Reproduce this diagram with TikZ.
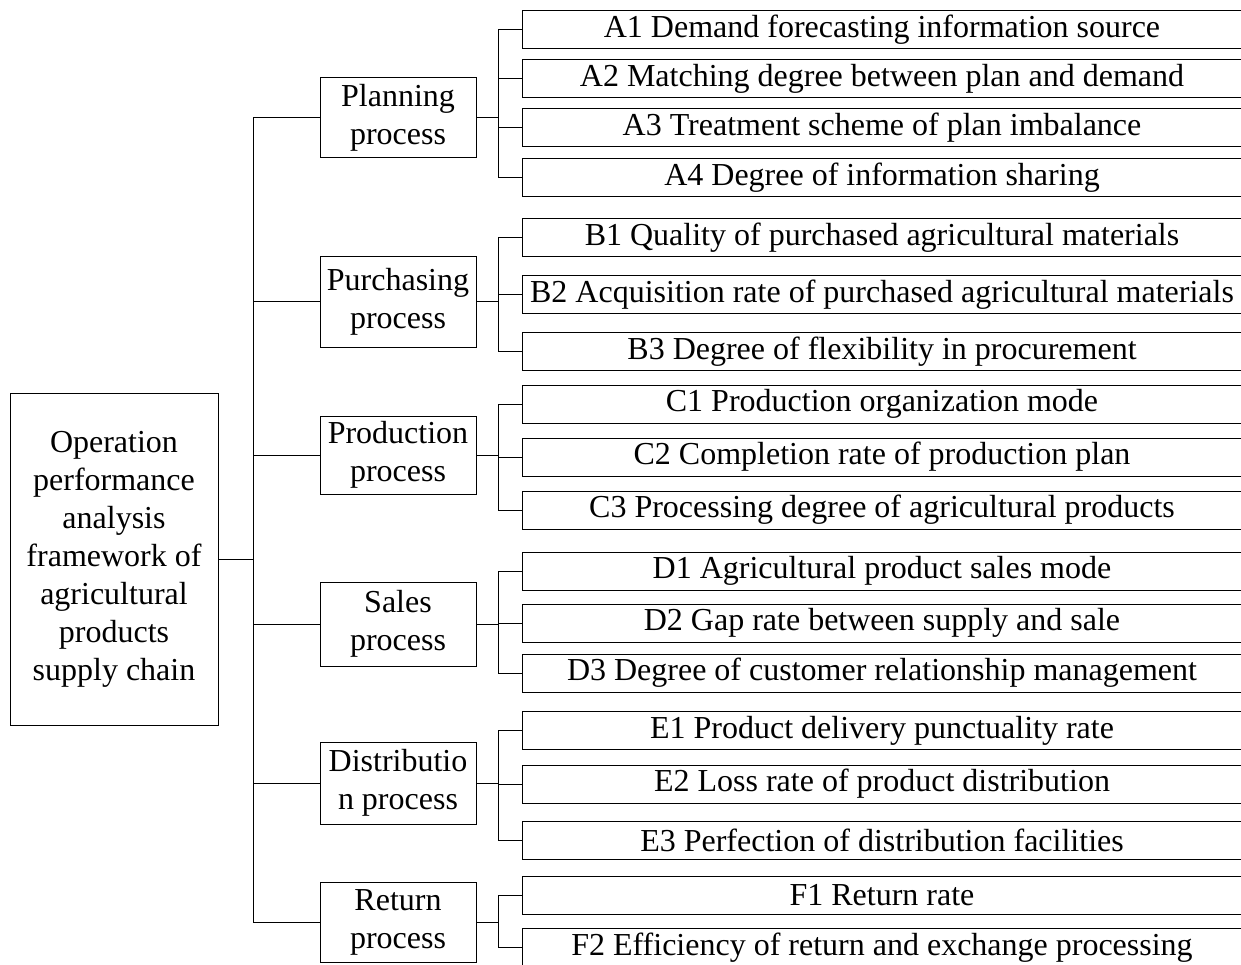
\documentclass[tikz,border=0pt]{standalone}
\usepackage{fontspec}
\setmainfont{Liberation Serif}
\begin{document}
\begin{tikzpicture}[x=1pt,y=-1pt,
  every node/.style={font=\fontsize{32}{38}\selectfont, inner sep=0pt, align=center},
  mainbox/.style={draw, line width=1pt, minimum width=208pt, minimum height=332pt},
  procbox/.style={draw, line width=1pt, minimum width=156pt},
  leafbox/.style={draw, line width=1pt, minimum width=720pt, minimum height=38pt},
  conn/.style={line width=1pt}]
\useasboundingbox (0,0) rectangle (1241,965);
\clip (0,0) rectangle (1241,965);
% main
\node[mainbox] (main) at (114,559) {Operation\\performance\\analysis\\framework of\\agricultural\\products\\supply chain};
% process boxes
\node[procbox, minimum height=80pt] (pA) at (398,118) {Planning\\process};
\node[procbox, minimum height=90pt] (pB) at (398,302) {Purchasing\\process};
\node[procbox, minimum height=78pt] (pC) at (398,455) {Production\\process};
\node[procbox, minimum height=84pt] (pD) at (398,624) {Sales\\process};
\node[procbox, minimum height=82pt] (pE) at (398,783) {Distributio\\n process};
\node[procbox, minimum height=80pt] (pF) at (398,922) {Return\\process};
% leaf boxes
\node[leafbox] (a1) at (882,30) {A1 Demand forecasting information source};
\node[leafbox] (a2) at (882,79) {A2 Matching degree between plan and demand};
\node[leafbox] (a3) at (882,128) {A3 Treatment scheme of plan imbalance};
\node[leafbox] (a4) at (882,177.5) {A4 Degree of information sharing};
\node[leafbox] (b1) at (882,238) {B1 Quality of purchased agricultural materials};
\node[leafbox] (b2) at (882,295) {B2 Acquisition rate of purchased agricultural materials};
\node[leafbox] (b3) at (882,351.5) {B3 Degree of flexibility in procurement};
\node[leafbox] (c1) at (882,404) {C1 Production organization mode};
\node[leafbox] (c2) at (882,457) {C2 Completion rate of production plan};
\node[leafbox] (c3) at (882,510) {C3 Processing degree of agricultural products};
\node[leafbox] (d1) at (882,571) {D1 Agricultural product sales mode};
\node[leafbox] (d2) at (882,623) {D2 Gap rate between supply and sale};
\node[leafbox] (d3) at (882,673) {D3 Degree of customer relationship management};
\node[leafbox] (e1) at (882,730.5) {E1 Product delivery punctuality rate};
\node[leafbox] (e2) at (882,784) {E2 Loss rate of product distribution};
\node[leafbox] (e3) at (882,840) {E3 Perfection of distribution facilities};
\node[leafbox] (f1) at (882,895.5) {F1 Return rate};
\node[leafbox] (f2) at (882,947.5) {F2 Efficiency of return and exchange processing};
% trunk
\coordinate (trunk) at (253,559);
\draw[conn] (main.east) -- (trunk);
\foreach \p in {pA,pB,pC,pD,pE,pF} { \draw[conn] (trunk) |- (\p.west); }
% junctions
\coordinate (jA) at (498,118);
\coordinate (jB) at (498,302);
\coordinate (jC) at (498,455);
\coordinate (jD) at (498,624);
\coordinate (jE) at (498,783);
\coordinate (jF) at (498,922);
\draw[conn] (pA.east) -- (jA);
\draw[conn] (pB.east) -- (jB);
\draw[conn] (pC.east) -- (jC);
\draw[conn] (pD.east) -- (jD);
\draw[conn] (pE.east) -- (jE);
\draw[conn] (pF.east) -- (jF);
\foreach \l in {a1,a2,a3,a4} { \draw[conn] (jA) |- (\l.west); }
\foreach \l in {b1,b2,b3} { \draw[conn] (jB) |- (\l.west); }
\foreach \l in {c1,c2,c3} { \draw[conn] (jC) |- (\l.west); }
\foreach \l in {d1,d2,d3} { \draw[conn] (jD) |- (\l.west); }
\foreach \l in {e1,e2,e3} { \draw[conn] (jE) |- (\l.west); }
\foreach \l in {f1,f2} { \draw[conn] (jF) |- (\l.west); }
\end{tikzpicture}
\end{document}
